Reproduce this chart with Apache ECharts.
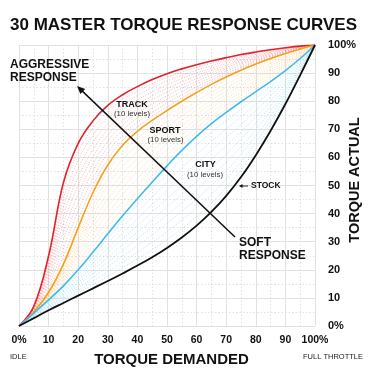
<!DOCTYPE html>
<html><head><meta charset="utf-8">
<script src="https://cdn.jsdelivr.net/npm/echarts@6/dist/echarts.min.js"></script>
<style>html,body{margin:0;padding:0;background:#fff}#c{width:375px;height:375px}</style>
</head><body><div id="c"></div>
<script>
// ---- data (percent of torque demanded -> percent of torque actual) ----
const demand      = [0,5,10,15,20,25,30,35,40,45,50,55,60,65,70,75,80,85,90,95,100];
const trackCurve  = [0,7,25,51,65,73,78.5,82.3,85.2,87.7,89.8,91.5,93,94.3,95.5,96.6,97.5,98.3,99,99.6,100];
const sportCurve  = [0,5,12,22,35,47.5,57.3,64.3,69.3,73.2,76.7,80,83.1,86,88.6,91,93.2,95.2,97,98.6,100];
const cityCurve   = [0,4.6,9.3,14.3,20,26.3,32.8,39.2,45.3,51.2,57,62.5,67.5,72,76,79.8,83.4,87,90.9,95.2,100];
const stockCurve  = [0,2.8,5.6,8.2,10.8,13.4,16,18.7,21.5,24.5,27.8,31.5,35.7,40.6,46.3,53,60.8,69.5,79,89.3,100];
const levelWeights = [0.1,0.2,0.3,0.4,0.5,0.6,0.7,0.8,0.9];
const xTickLabels = ['0%','10','20','30','40','50','60','70','80','90','100%'];
const yTickLabels = ['0%','10','20','30','40','50','60','70','80','90','100%'];

const FONT = '"Liberation Sans", Arial, Helvetica, sans-serif';
const RED = '#e4202a', ORANGE = '#f6a01c', BLUE = '#3dbbea', BLACK = '#111111';
const GRID = '#e1e1e1';

function pairs(vals){ return demand.map((d,i)=>[d, vals[i]]); }
function blend(a,b,w){ return a.map((v,i)=> v*(1-w) + b[i]*w); }

const SMOOTH = 0.4;
const series = [];
const bands = [
  {from: trackCurve, to: sportCurve, color: '#f07a7a', op: 0.6},
  {from: sportCurve, to: cityCurve,  color: '#f9c271', op: 0.65},
  {from: cityCurve,  to: stockCurve, color: '#8ed6f2', op: 0.75}
];
bands.forEach(b=>{
  levelWeights.forEach(w=>{
    series.push({type:'line', data: pairs(blend(b.from,b.to,w)), showSymbol:false, silent:true,
      smooth:SMOOTH, z:2, lineStyle:{color:b.color, width:0.8, type:[1.2,1.6], opacity:b.op}});
  });
});
[[trackCurve,RED],[sportCurve,ORANGE],[cityCurve,BLUE],[stockCurve,BLACK]].forEach(([c,col])=>{
  series.push({type:'line', data: pairs(c), showSymbol:false, silent:true, smooth:SMOOTH, z:4,
    lineStyle:{color:col, width: col===BLACK?1.8:1.6}});
});

function txt(text, x, y, size, weight, align, color, extra){
  return Object.assign({type:'text', z:10, silent:true, style:{text, x, y,
    font: `${weight} ${size}px ${FONT}`, fill: color||'#111',
    textAlign: align||'left', align: align||'left', textVerticalAlign:'middle', verticalAlign:'middle'}}, extra||{});
}
function arrow(x1,y1,x2,y2,len,hw,lw){
  const dx=x2-x1, dy=y2-y1, L=Math.hypot(dx,dy), ux=dx/L, uy=dy/L;
  const bx=x2-ux*len, by=y2-uy*len, px=-uy, py=ux;
  return [
    {type:'line', z:9, silent:true, shape:{x1,y1,x2:bx+ux*1,y2:by+uy*1}, style:{stroke:BLACK, lineWidth:lw}},
    {type:'polygon', z:9, silent:true, shape:{points:[[x2,y2],[bx+px*hw,by+py*hw],[bx-px*hw,by-py*hw]]}, style:{fill:BLACK}}
  ];
}

const graphic = [
  txt('30 MASTER TORQUE RESPONSE CURVES', 10, 25.5, 17, 'bold'),
  txt('AGGRESSIVE', 10, 65, 12, 'bold'),
  txt('RESPONSE', 10, 77.5, 12, 'bold'),
  txt('TRACK', 132, 104.5, 9, 'bold', 'center'),
  txt('(10 levels)', 132, 113.5, 7.8, 'normal', 'center', '#333'),
  txt('SPORT', 165, 130.5, 9, 'bold', 'center'),
  txt('(10 levels)', 165.5, 139.5, 7.8, 'normal', 'center', '#333'),
  txt('CITY', 205.5, 165, 9, 'bold', 'center'),
  txt('(10 levels)', 205, 174.5, 7.8, 'normal', 'center', '#333'),
  txt('STOCK', 251, 185.5, 8.5, 'bold'),
  txt('SOFT', 239, 243, 12, 'bold'),
  txt('RESPONSE', 239, 256, 12, 'bold'),
  txt('TORQUE DEMANDED', 171.5, 359.5, 15, 'bold', 'center'),
  txt('IDLE', 10, 357, 7.5, 'normal', 'left', '#222'),
  txt('FULL THROTTLE', 363, 357, 7.5, 'normal', 'right', '#222'),
  txt('TORQUE ACTUAL', 0, 0, 14.5, 'bold', 'center', '#111', {x:355, y:180, rotation: Math.PI/2})
].concat(arrow(235,237,77,86,8,3.5,1.5)).concat(arrow(248,186,239,186,3.5,2,0.9));

const chart = echarts.init(document.getElementById('c'), null, {renderer:'canvas'});
chart.setOption({
  animation:false,
  backgroundColor:'#fff',
  textStyle:{fontFamily:FONT},
  grid:{left:19, right:60, top:45, bottom:49, containLabel:false},
  xAxis:{type:'value', min:0, max:100, interval:10,
    axisLine:{show:false}, axisTick:{show:false},
    axisLabel:{margin:9, fontSize:10.5, fontWeight:'bold', color:'#111', fontFamily:FONT,
      formatter:(v)=> xTickLabels[Math.round(v/10)]},
    splitLine:{show:true, lineStyle:{color:GRID, width:1}},
    minorTick:{show:true, splitNumber:2, length:0, lineStyle:{opacity:0}},
    minorSplitLine:{show:true, lineStyle:{color:GRID, width:1, type:[1.5,2]}}},
  yAxis:{type:'value', position:'right', min:0, max:100, interval:10,
    axisLine:{show:false}, axisTick:{show:true, length:7, lineStyle:{color:GRID}},
    axisLabel:{margin:13, fontSize:11, fontWeight:'bold', color:'#111', fontFamily:FONT,
      formatter:(v)=> yTickLabels[Math.round(v/10)]},
    splitLine:{show:true, lineStyle:{color:GRID, width:1}},
    minorTick:{show:true, splitNumber:2, length:0, lineStyle:{opacity:0}},
    minorSplitLine:{show:true, lineStyle:{color:GRID, width:1, type:[1.5,2]}}},
  series,
  graphic
});
</script></body></html>
